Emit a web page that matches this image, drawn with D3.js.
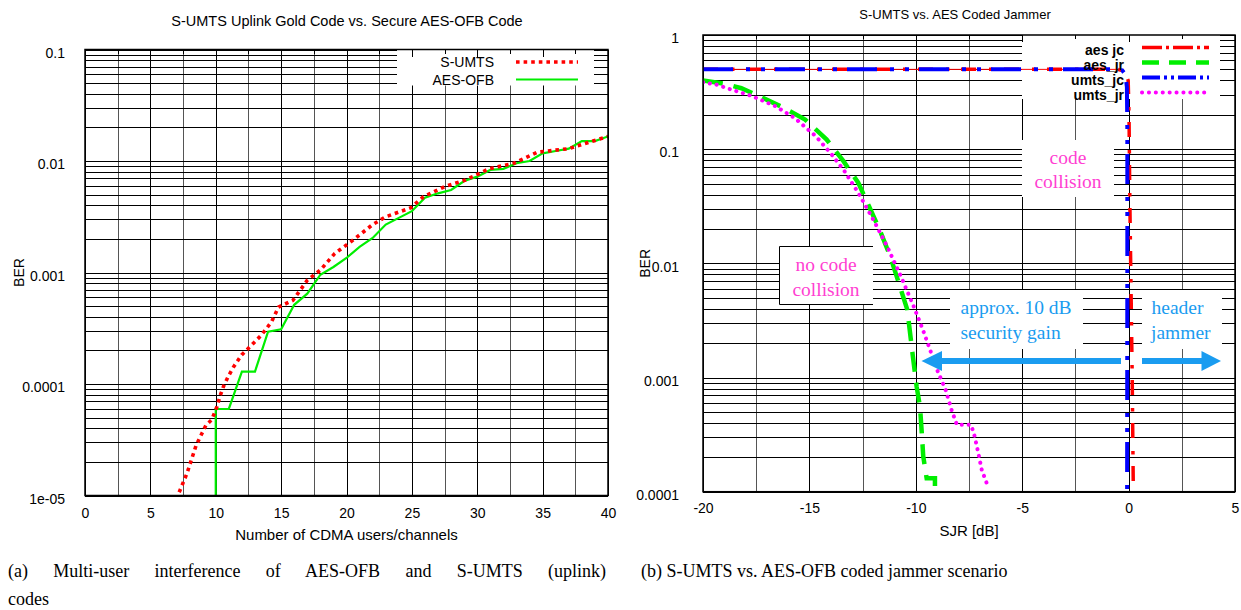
<!DOCTYPE html>
<html><head><meta charset="utf-8">
<script src="https://cdn.jsdelivr.net/npm/d3@7"></script>
<style>
body{margin:0;background:#fff;}
svg{display:block;}
text{font-family:"Liberation Sans",Arial,Helvetica,sans-serif;}
.serif{font-family:"Liberation Serif","Times New Roman",serif;}
</style>
</head><body>
<svg id="c" width="1241" height="610"></svg>
<script>
// ---------------- DATA: left panel ----------------
const usersSumts = [6.9, 7.1, 7.8, 8.5, 9.25, 9.7, 10.1, 10.35, 10.6, 10.96, 11.34, 11.98, 12.75, 13.5, 14.28, 14.8, 15.9, 17.0, 18.0, 19.1, 20.4, 22.0, 23.0, 24.9, 25.9, 27.5, 29.1, 30.9, 32.8, 34.6, 37.0, 38.6, 40.0];
const berSumts = [7.9e-6, 1.0e-5, 1.58e-5, 2.82e-5, 4.27e-5, 4.79e-5, 6.31e-5, 7.94e-5, 9.55e-5, 1.17e-4, 1.41e-4, 1.82e-4, 2.24e-4, 2.75e-4, 3.63e-4, 4.9e-4, 5.62e-4, 8.51e-4, 1.05e-3, 1.48e-3, 1.91e-3, 2.69e-3, 3.16e-3, 3.8e-3, 4.79e-3, 5.89e-3, 6.76e-3, 8.51e-3, 9.55e-3, 1.2e-2, 1.29e-2, 1.48e-2, 1.66e-2];
const usersAes = [10, 10, 11, 12, 13, 14, 15, 16, 17, 18, 19, 20, 21, 22, 23, 24, 25, 26, 27, 28, 29, 30, 31, 32, 33, 34, 35, 36, 37, 38, 39, 40];
const berAes = [8e-6, 5.97e-5, 5.97e-5, 1.29e-4, 1.29e-4, 2.95e-4, 3.09e-4, 5.13e-4, 6.46e-4, 9.55e-4, 1.12e-3, 1.35e-3, 1.70e-3, 2.04e-3, 2.69e-3, 3.09e-3, 3.55e-3, 4.68e-3, 5.13e-3, 5.5e-3, 6.61e-3, 7.24e-3, 8.32e-3, 8.51e-3, 9.55e-3, 1.0e-2, 1.17e-2, 1.23e-2, 1.29e-2, 1.51e-2, 1.51e-2, 1.66e-2];
const leftXTicks = [0, 5, 10, 15, 20, 25, 30, 35, 40];
const leftYTicks = [0.1, 0.01, 0.001, 0.0001, 0.00001];
const leftYLabels = ["0.1", "0.01", "0.001", "0.0001", "1e-05"];
const leftSeriesNames = ["S-UMTS", "AES-OFB"];

// ---------------- DATA: right panel ----------------
const sjrAesJc = [-20, -0.5, -0.2, -0.02, 0.02, 0.05, 0.07, 0.12, 0.17, 0.22, 0.26];
const berAesJc = [0.5, 0.5, 0.48, 0.4, 0.2, 0.05, 0.024, 0.005, 0.001, 0.00011, 0.00009];
const sjrAesJr = [-20, -19, -18.2, -17.5, -16.2, -15.2, -14.2, -13.4, -12.7, -12.2, -11.7, -11.2, -10.8, -10.4, -10.15, -9.96, -9.8, -9.72, -9.65, -9.49, -9.1, -9.1];
const berAesJr = [0.40, 0.375, 0.342, 0.30, 0.23, 0.182, 0.122, 0.0785, 0.0507, 0.0316, 0.0197, 0.0115, 0.00675, 0.00393, 0.0016, 0.00083, 0.00055, 0.00033, 0.000204, 0.000131, 0.000131, 0.000112];
const sjrUmtsJc = [-20, -0.55, -0.3, -0.15, -0.08, -0.06, -0.06, -0.07];
const berUmtsJc = [0.5, 0.5, 0.49, 0.45, 0.35, 0.15, 0.01, 0.0001];
const sjrUmtsJr = [-20, -19.4, -18.7, -17.7, -16.6, -15.7, -14.7, -13.95, -13.35, -12.7, -12.0, -11.35, -10.7, -10.1, -9.67, -9.33, -9.0, -8.6, -8.32, -8.07, -7.4, -7.23, -7.06, -6.9, -6.64];
const berUmtsJr = [0.385, 0.369, 0.334, 0.292, 0.238, 0.188, 0.13, 0.0897, 0.0641, 0.0414, 0.0242, 0.0141, 0.00769, 0.0042, 0.00263, 0.00175, 0.00117, 0.00078, 0.00052, 0.000385, 0.000385, 0.000303, 0.000217, 0.000155, 0.000115];
const rightXTicks = [-20, -15, -10, -5, 0, 5];
const rightXLabels = ["-20", "-15", "-10", "-5", "0", "5"];
const rightYTicks = [1, 0.1, 0.01, 0.001, 0.0001];
const rightYLabels = ["1", "0.1", "0.01", "0.001", "0.0001"];
const rightSeriesNames = ["aes jc", "aes_jr", "umts_jc", "umts_jr"];

const captionA1 = "(a) Multi-user interference of AES-OFB and S-UMTS (uplink)";
const captionA2 = "codes";
const captionB = "(b) S-UMTS vs. AES-OFB coded jammer scenario";

// ---------------- DRAW ----------------
const svg = d3.select("#c");
const zip = (xs, ys) => xs.map((x, i) => [x, ys[i]]);

function panel(o) {
  const g = svg.append("g");
  const x = o.x, y = o.y;
  const [x0, x1] = x.range(), [y0, y1] = y.range();
  const clipId = o.id + "clip";
  svg.append("defs").append("clipPath").attr("id", clipId)
    .append("rect").attr("x", x0).attr("y", y1).attr("width", x1 - x0).attr("height", y0 - y1);

  const grid = g.append("g").attr("shape-rendering", "crispEdges");
  const [dx0, dx1] = x.domain();
  const vx = d3.range(dx0, dx1 + 0.001, 2.5);
  grid.selectAll(".v").data(vx).join("line")
    .attr("x1", d => Math.round(x(d)) + 0.5).attr("x2", d => Math.round(x(d)) + 0.5)
    .attr("y1", y1).attr("y2", y0)
    .attr("stroke", d => (Math.abs(d % 5) < 1e-6 ? "#000" : "#555")).attr("stroke-width", 1);
  const [dy0, dy1] = y.domain();
  const hy = [];
  for (let k = Math.round(Math.log10(dy0)); k < Math.round(Math.log10(dy1)); k++)
    for (let m = 1; m < 10; m++) hy.push(m * Math.pow(10, k));
  hy.push(dy1);
  grid.selectAll(".h").data(hy).join("line")
    .attr("x1", x0).attr("x2", x1)
    .attr("y1", d => Math.round(y(d)) + 0.5).attr("y2", d => Math.round(y(d)) + 0.5)
    .attr("stroke", "#000").attr("stroke-width", 1);

  g.append("rect").attr("x", o.legend.x).attr("y", y1).attr("width", o.legend.w).attr("height", o.legend.h)
    .attr("fill", "#fff");
  const tk = g.append("g").attr("shape-rendering", "crispEdges");
  tk.selectAll("line").data(vx).join("line")
    .attr("x1", d => Math.round(x(d)) + 0.5).attr("x2", d => Math.round(x(d)) + 0.5)
    .attr("y1", y1).attr("y2", d => y1 + (Math.abs(d % 5) < 1e-6 ? 7 : 4))
    .attr("stroke", "#000");
  tk.selectAll(".rt").data(hy).join("line")
    .attr("x1", x1 - 6).attr("x2", x1)
    .attr("y1", d => Math.round(y(d)) + 0.5).attr("y2", d => Math.round(y(d)) + 0.5)
    .attr("stroke", "#000");

  const ax = g.append("g").attr("transform", `translate(0,${y0})`)
    .call(d3.axisBottom(x).tickValues(o.xTicks).tickSize(0).tickPadding(o.xPad).tickFormat((d, i) => o.xLabels[i]));
  ax.select(".domain").remove();
  ax.selectAll("text").attr("font-size", 14).attr("font-family", "Liberation Sans, Arial, sans-serif").attr("fill", "#000");
  const ay = g.append("g").attr("transform", `translate(${x0},0)`)
    .call(d3.axisLeft(y).tickValues(o.yTicks).tickSize(0).tickPadding(o.yPad).tickFormat((d, i) => o.yLabels[i]));
  ay.select(".domain").remove();
  ay.selectAll("text").attr("font-size", 14).attr("dy", "0.55em").attr("font-family", "Liberation Sans, Arial, sans-serif").attr("fill", "#000");

  g.append("text").attr("x", o.titleX).attr("y", o.titleY).attr("text-anchor", "middle")
    .attr("font-size", o.titleSize).text(o.title);
  g.append("text").attr("x", (x0 + x1) / 2).attr("y", o.xLabelY).attr("text-anchor", "middle")
    .attr("font-size", 15).text(o.xLabel);
  g.append("text").attr("transform", `translate(${o.yLabelX},${(y0 + y1) / 2}) rotate(-90)`)
    .attr("text-anchor", "middle").attr("font-size", 14).text("BER");

  const plot = g.append("g").attr("clip-path", `url(#${clipId})`);
  return {g, plot, clipId};
}

// ----- Left panel -----
const xL = d3.scaleLinear([0, 40], [85, 608]);
const yL = d3.scaleLog([1e-5, 0.1], [495.5, 49.5]);
const L = panel({id: "L", x: xL, y: yL, legend: {x: 397, w: 197, h: 36},
  xTicks: leftXTicks, xLabels: leftXTicks.map(String), yTicks: leftYTicks, yLabels: leftYLabels, xPad: 12.5, yPad: 20,
  title: "S-UMTS Uplink Gold Code vs. Secure AES-OFB Code", titleX: 347, titleY: 26, titleSize: 14.5,
  xLabel: "Number of CDMA users/channels", xLabelY: 540, yLabelX: 24});

const lineL = d3.line().x(d => xL(d[0])).y(d => yL(d[1]));
L.plot.append("path").datum(zip(usersAes, berAes)).attr("d", lineL)
  .attr("fill", "none").attr("stroke", "#00ee00").attr("stroke-width", 2.2);
L.plot.append("path").datum(zip(usersSumts, berSumts)).attr("d", lineL)
  .attr("fill", "none").attr("stroke", "#ff0000").attr("stroke-width", 3.6).attr("stroke-dasharray", "3.6,4");

const legL = L.g.append("g");
const legLStyles = [{c: "#ff0000", w: 3.6, da: "3.6,4"}, {c: "#00ee00", w: 2, da: null}];
leftSeriesNames.forEach((n, i) => {
  const yy = 62 + i * 17.5;
  legL.append("text").attr("x", 494).attr("y", yy + 5).attr("text-anchor", "end").attr("font-size", 14).text(n);
  legL.append("line").attr("x1", 516).attr("x2", 578).attr("y1", yy).attr("y2", yy)
    .attr("stroke", legLStyles[i].c).attr("stroke-width", legLStyles[i].w)
    .attr("stroke-dasharray", legLStyles[i].da);
});
L.g.append("rect").attr("x", 85).attr("y", 49.5).attr("width", 523).attr("height", 446)
  .attr("fill", "none").attr("stroke", "#000").attr("stroke-width", 1.5);

// ----- Right panel -----
const xR = d3.scaleLinear([-20, 5], [703, 1235]);
const yR = d3.scaleLog([1e-4, 1], [491.7, 35]);
const R = panel({id: "R", x: xR, y: yR, legend: {x: 1022, w: 198, h: 64},
  xTicks: rightXTicks, xLabels: rightXLabels, yTicks: rightYTicks, yLabels: rightYLabels, xPad: 11.5, yPad: 24,
  title: "S-UMTS vs. AES Coded Jammer", titleX: 955, titleY: 19, titleSize: 13,
  xLabel: "SJR [dB]", xLabelY: 536, yLabelX: 650});

const legR = R.g.append("g");
const legRStyles = [
  {c: "#ff0000", w: 3.5, da: "20,4,3,4", cap: "butt"},
  {c: "#00ee00", w: 4.5, da: "17,10", cap: "butt"},
  {c: "#0000ff", w: 4, da: "18,4,3,4,3,4", cap: "butt"},
  {c: "#ff00ff", w: 4, da: "0.1,6.8", cap: "round"}];
const curveRDash = ["15,13,3.5,11.5", "20,11", "30,13,4,11,4,10", "0.1,6.8"];
rightSeriesNames.forEach((n, i) => {
  const yy = 50 + i * 15;
  legR.append("text").attr("x", 1124).attr("y", yy + 5).attr("text-anchor", "end")
    .attr("font-size", 14).attr("font-weight", "bold").text(n);
  const s = legRStyles[i];
  legR.append("line").attr("x1", 1142).attr("x2", 1209).attr("y1", yy - 2.5).attr("y2", yy - 2.5)
    .attr("stroke", s.c).attr("stroke-width", s.w).attr("stroke-dasharray", s.da).attr("stroke-linecap", s.cap);
});

const lineR = d3.line().x(d => xR(d[0])).y(d => yR(d[1]));
const seriesR = [
  [sjrAesJc, berAesJc, 0], [sjrAesJr, berAesJr, 1], [sjrUmtsJc, berUmtsJc, 2], [sjrUmtsJr, berUmtsJr, 3]];
R.plot.append("path").datum(zip(sjrAesJc.slice(0, 3), berAesJc.slice(0, 3))).attr("d", lineR)
  .attr("fill", "none").attr("stroke", "#ff0000").attr("stroke-width", 1);
seriesR.forEach(([xs, ys, i]) => {
  const s = legRStyles[i];
  R.plot.append("path").datum(zip(xs, ys)).attr("d", lineR)
    .attr("fill", "none").attr("stroke", s.c).attr("stroke-width", s.w)
    .attr("stroke-dasharray", curveRDash[i]).attr("stroke-linecap", s.cap);
});

const ann = R.g.append("g");
const magenta = "#ff3fd2", cyan = "#1a9cf0";
ann.append("rect").attr("x", 779.5).attr("y", 246.5).attr("width", 93.5).attr("height", 58).attr("fill", "#fff");
ann.append("path").attr("d", "M873,246.5H779.5V304.5H873").attr("fill", "none").attr("stroke", "#000").attr("stroke-width", 1);
ann.append("rect").attr("x", 1022).attr("y", 140).attr("width", 92).attr("height", 57).attr("fill", "#fff");
ann.append("rect").attr("x", 950).attr("y", 290).attr("width", 133).attr("height", 59).attr("fill", "#fff");
ann.append("rect").attr("x", 1142).attr("y", 290).attr("width", 80).attr("height", 59).attr("fill", "#fff");
const annText = (t, xx, yy, col, anchor) => ann.append("text").attr("class", "serif")
  .attr("x", xx).attr("y", yy).attr("fill", col).attr("font-size", 19.5).attr("text-anchor", anchor).text(t);
annText("no code", 826, 271, magenta, "middle");
annText("collision", 826, 295.5, magenta, "middle");
annText("code", 1068, 163.5, magenta, "middle");
annText("collision", 1068, 188, magenta, "middle");
annText("approx. 10 dB", 960.5, 314, cyan, "start");
annText("security gain", 960.5, 339, cyan, "start");
annText("header", 1151.5, 314, cyan, "start");
annText("jammer", 1151, 339, cyan, "start");
ann.append("line").attr("x1", 1121).attr("x2", 938).attr("y1", 361).attr("y2", 361).attr("stroke", cyan).attr("stroke-width", 6);
ann.append("path").attr("d", "M921.5,361L942,351L942,371Z").attr("fill", cyan);
ann.append("line").attr("x1", 1142).attr("x2", 1204).attr("y1", 361).attr("y2", 361).attr("stroke", cyan).attr("stroke-width", 6);
ann.append("path").attr("d", "M1221,361L1201.5,351L1201.5,371Z").attr("fill", cyan);

R.g.append("rect").attr("x", 703).attr("y", 35).attr("width", 532).attr("height", 456.7)
  .attr("fill", "none").attr("stroke", "#000").attr("stroke-width", 1.5);

function justified(t, xx, yy, width) {
  const el = svg.append("text").attr("class", "serif").attr("x", xx).attr("y", yy)
    .attr("font-size", 18).attr("fill", "#000").text(t);
  if (width) {
    const nat = el.node().getComputedTextLength();
    const spaces = (t.match(/ /g) || []).length;
    if (spaces && width > nat) el.attr("word-spacing", (width - nat) / spaces);
  }
  return el;
}
justified(captionA1, 8, 577, 598);
justified(captionA2, 8, 605, null);
justified(captionB, 641, 577, null);
</script>
</body></html>
